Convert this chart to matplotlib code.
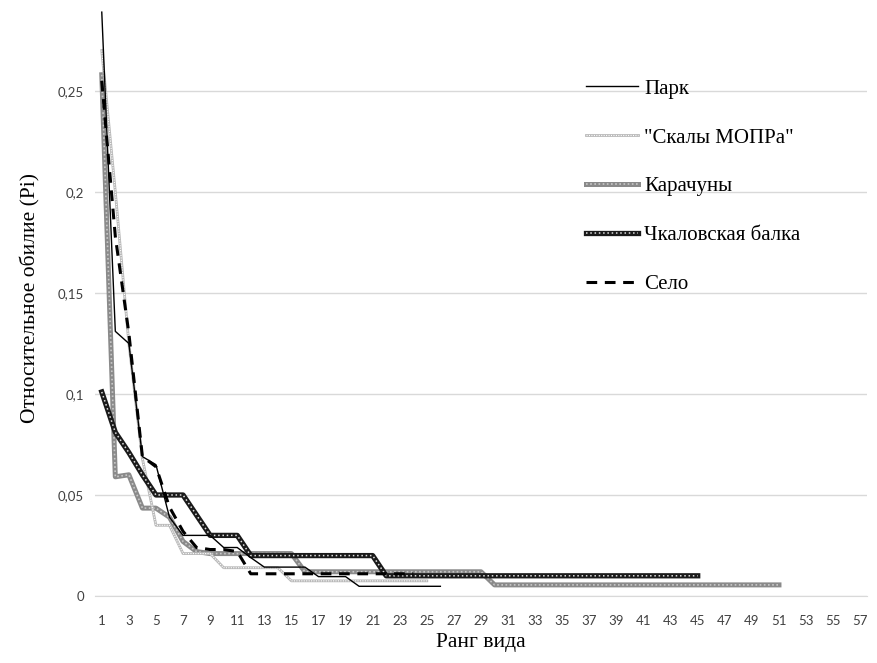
import matplotlib
matplotlib.use("Agg")
import matplotlib.pyplot as plt
from matplotlib.legend_handler import HandlerTuple

# Data (relative abundance by species rank)
park = [0.289, 0.131, 0.125, 0.069, 0.065, 0.039, 0.030, 0.030, 0.030, 0.024,
        0.024, 0.019, 0.0143, 0.0143, 0.0143, 0.0143, 0.0096, 0.0096, 0.0096,
        0.0048, 0.0048, 0.0048, 0.0048, 0.0048, 0.0048, 0.0048]
skaly = [0.27, 0.20, 0.125, 0.068, 0.035, 0.035, 0.021, 0.021, 0.021, 0.014,
         0.014, 0.014, 0.014, 0.014] + [0.0075] * 11
karachuny = [0.258, 0.059, 0.060, 0.0435, 0.0435, 0.039, 0.027, 0.022] \
    + [0.021] * 7 + [0.012] * 14 + [0.0055] * 22
chkalov = [0.101, 0.081, 0.071, 0.060, 0.050, 0.050, 0.050, 0.040, 0.030,
           0.030, 0.030] + [0.020] * 10 + [0.010] * 24
selo = [0.255, 0.178, 0.130, 0.069, 0.064, 0.044, 0.032, 0.024, 0.023, 0.023,
        0.022] + [0.011] * 13

names = ["Парк", '"Скалы МОПРа"', "Карачуны", "Чкаловская балка", "Село"]
x_ticks = list(range(1, 58, 2))
y_ticks = [0, 0.05, 0.1, 0.15, 0.2, 0.25]
y_labels = ["0", "0,05", "0,1", "0,15", "0,2", "0,25"]


def ranks(vals):
    return list(range(1, len(vals) + 1))


fig = plt.figure(figsize=(8.77, 6.63), dpi=100)
ax = fig.add_axes([95 / 877, (663 - 596) / 663, (867 - 95) / 877, 596 / 663])

# Парк - thin solid black
h1, = ax.plot(ranks(park), park, color="black", lw=1.0, zorder=6)

# Скалы МОПРа - light dotted band
h2a, = ax.plot(ranks(skaly), skaly, color="#b8b8b8", lw=2.0, zorder=3)
h2b, = ax.plot(ranks(skaly), skaly, color="white", lw=0.8,
               linestyle=(0, (1, 1.2)), zorder=3)

# Карачуны - medium gray textured band
h3a, = ax.plot(ranks(karachuny), karachuny, color="#8a8a8a", lw=3.6, zorder=2)
h3b, = ax.plot(ranks(karachuny), karachuny, color="#c8c8c8", lw=1.2,
               linestyle=(0, (1, 1.5)), zorder=2)

# Чкаловская балка - dark checkered band
h4a, = ax.plot(ranks(chkalov), chkalov, color="#1a1a1a", lw=3.8, zorder=4)
h4b, = ax.plot(ranks(chkalov), chkalov, color="#e0e0e0", lw=1.1,
               linestyle=(0, (1, 1.8)), zorder=4)

# Село - black dashed
h5, = ax.plot(ranks(selo), selo, color="black", lw=2.2,
              linestyle=(0, (3.5, 2.5)), zorder=5)

ax.set_xlim(0.5, 57.5)
ax.set_ylim(0, 0.295)
ax.set_xticks(x_ticks)
ax.set_yticks(y_ticks)
ax.set_yticklabels(y_labels)
ax.tick_params(axis="both", length=0, labelsize=9.5, colors="#404040")
ax.tick_params(axis="x", pad=14)
ax.tick_params(axis="y", pad=8)
for lab in ax.get_xticklabels() + ax.get_yticklabels():
    lab.set_fontfamily("Lato")

ax.grid(axis="y", color="#d9d9d9", lw=1)
ax.set_axisbelow(True)
for s in ["top", "right", "left"]:
    ax.spines[s].set_visible(False)
ax.spines["bottom"].set_color("#d9d9d9")

ax.set_xlabel("Ранг вида", family="Liberation Serif", fontsize=15.5, labelpad=4)
ax.set_ylabel("Относительное обилие (Pi)", family="Liberation Serif",
              fontsize=15.5, labelpad=12)

ax.legend([h1, (h2a, h2b), (h3a, h3b), (h4a, h4b), h5], names,
          handler_map={tuple: HandlerTuple(ndivide=1)},
          loc="upper left", bbox_to_anchor=(586 / 877, 1 - 79 / 663),
          bbox_transform=fig.transFigure, frameon=False,
          prop={"family": "Liberation Serif", "size": 15},
          handlelength=2.5, handletextpad=0.3, labelspacing=1.41,
          borderpad=0, borderaxespad=0)

fig.savefig("out.png", dpi=100)
